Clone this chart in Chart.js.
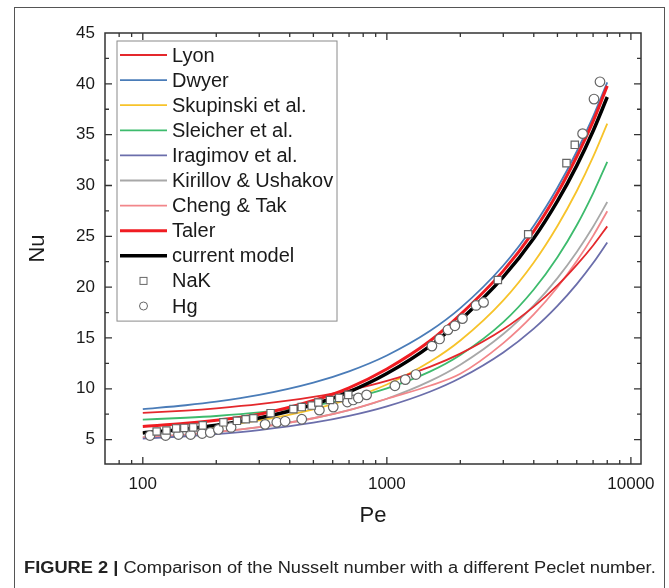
<!DOCTYPE html>
<html>
<head>
<meta charset="utf-8">
<script src="https://cdn.jsdelivr.net/npm/chart.js@4.4.1/dist/chart.umd.min.js"></script>
<style>
  body { margin: 0; background: #fff; }
  #page { position: relative; width: 669px; height: 588px; overflow: hidden; }
  #frame { position: absolute; left: 14px; top: 7px; width: 651px; height: 620px; border: 1.5px solid #555; box-sizing: border-box; }
  #grafico { position: absolute; left: 0; top: 0; }
  #legenda { position: absolute; left: 24px; top: 559px; font: 16px 'Liberation Sans', Arial, sans-serif; color: #222; white-space: nowrap; transform-origin: left top; }
  #legenda b { font-weight: bold; }
</style>
</head>
<body>
<div id="page">
  <div id="frame"></div>
  <canvas id="grafico" width="669" height="588"></canvas>
  <div id="legenda"><b>FIGURE 2 |</b> Comparison of the Nusselt number with a different Peclet number.</div>
</div>
<script>
// Pe values where the correlation curves were read
const peGrid = [100, 150, 200, 300, 500, 700, 1000, 1500, 2000, 3000, 4000, 5000, 6000, 7000, 8000];

const nuLyon      = [7.63, 7.86, 8.08, 8.48, 9.20, 9.85, 10.77, 12.16, 13.46, 15.85, 18.08, 20.17, 22.19, 24.10, 25.98];
const nuDwyer     = [8.00, 8.38, 8.73, 9.40, 10.61, 11.72, 13.28, 15.68, 17.93, 22.13, 26.04, 29.77, 33.34, 36.78, 40.15];
const nuSkupinski = [5.66, 5.99, 6.30, 6.89, 7.98, 8.99, 10.42, 12.65, 14.75, 18.70, 22.43, 26.02, 29.46, 32.81, 36.09];
const nuSleicher  = [6.97, 7.15, 7.32, 7.67, 8.36, 9.03, 10.04, 11.69, 13.33, 16.56, 19.77, 22.94, 26.09, 29.23, 32.33];
const nuIragimov  = [5.10, 5.33, 5.54, 5.94, 6.66, 7.33, 8.27, 9.71, 11.06, 13.58, 15.92, 18.16, 20.30, 22.37, 24.39];
const nuKirillov  = [5.22, 5.49, 5.75, 6.23, 7.10, 7.90, 9.02, 10.75, 12.37, 15.39, 18.21, 20.89, 23.46, 25.94, 28.37];
const nuChengTak  = [5.22, 5.49, 5.75, 6.23, 7.10, 7.90, 9.02, 10.30, 11.47, 14.49, 17.31, 19.99, 22.56, 25.04, 27.47];
const nuTaler     = [6.30, 6.60, 6.90, 7.50, 8.85, 10.10, 11.95, 14.70, 17.30, 21.60, 25.50, 29.25, 32.85, 36.30, 39.80];
const nuCurrent   = [5.66, 6.05, 6.41, 7.12, 8.45, 9.70, 11.50, 14.20, 16.75, 21.00, 24.80, 28.45, 31.95, 35.36, 38.70];

// experimental points
const nakPe = [114, 125, 137, 148, 161, 176, 214, 243, 264, 284, 334, 414, 448, 492, 524, 585, 638, 695, 2850, 3795, 5445, 5890];
const nakNu = [5.8, 5.9, 6.1, 6.15, 6.2, 6.4, 6.7, 6.85, 7.0, 7.1, 7.6, 8.0, 8.2, 8.35, 8.65, 8.9, 9.1, 9.4, 20.7, 25.2, 32.2, 34.0];
const hgPe = [107, 124, 140, 157, 175, 189, 204, 230, 317, 354, 383, 448, 529, 603, 689, 728, 764, 826, 1079, 1190, 1315, 1530, 1645, 1780, 1900, 2040, 2320, 2490, 6340, 7060, 7470];
const hgNu = [5.4, 5.4, 5.5, 5.5, 5.6, 5.7, 6.0, 6.2, 6.5, 6.7, 6.8, 7.0, 7.9, 8.2, 8.7, 8.9, 9.1, 9.4, 10.3, 10.9, 11.4, 14.2, 14.9, 15.8, 16.2, 16.9, 18.2, 18.5, 35.1, 38.5, 40.2];

const xTickLabels = [100, 1000, 10000];
const yTickLabels = [5, 10, 15, 20, 25, 30, 35, 40, 45];

function pares(xs, ys) {
  return xs.map((v, i) => ({ x: v, y: ys[i] }));
}

function curva(label, valores, cor, largura, ordem) {
  return {
    label: label,
    data: pares(peGrid, valores),
    borderColor: cor,
    backgroundColor: cor,
    borderWidth: largura,
    pointRadius: 0,
    cubicInterpolationMode: 'monotone',
    order: ordem
  };
}

const datasets = [
  curva('Lyon', nuLyon, '#e4282c', 1.8, 3),
  curva('Dwyer', nuDwyer, '#4a7cb8', 1.8, 3),
  curva('Skupinski et al.', nuSkupinski, '#f7c32a', 1.8, 3),
  curva('Sleicher et al.', nuSleicher, '#3dbb6d', 1.8, 3),
  curva('Iragimov et al.', nuIragimov, '#6b6eab', 1.8, 3),
  curva('Kirillov & Ushakov', nuKirillov, '#a8a8a8', 1.8, 4),
  curva('Cheng & Tak', nuChengTak, '#f2868a', 1.8, 3),
  curva('Taler', nuTaler, '#f01c22', 3, 1),
  curva('current model', nuCurrent, '#000000', 3.5, 2),
  {
    label: 'NaK', data: pares(nakPe, nakNu), showLine: false,
    pointStyle: 'rect', pointRadius: 5.2, borderColor: '#666', backgroundColor: '#fff', borderWidth: 1.2, order: 0
  },
  {
    label: 'Hg', data: pares(hgPe, hgNu), showLine: false,
    pointStyle: 'circle', pointRadius: 4.8, borderColor: '#666', backgroundColor: '#fff', borderWidth: 1.2, order: 0
  }
];

// moldura, ticks para dentro e legenda
const molduraPlugin = {
  id: 'moldura',
  afterDraw(chart) {
    const { ctx, chartArea: a, scales: { x, y } } = chart;
    ctx.save();
    ctx.strokeStyle = '#333';
    ctx.lineWidth = 1.5;
    ctx.strokeRect(a.left, a.top, a.right - a.left, a.bottom - a.top);

    ctx.lineWidth = 1.3;
    ctx.beginPath();
    x.ticks.forEach(t => {
      const v = t.value;
      const dec = Math.pow(10, Math.floor(Math.log10(v) + 1e-9));
      const m = v / dec;
      if (Math.abs(m - Math.round(m)) > 1e-6) return;
      const px = x.getPixelForValue(v);
      if (px <= a.left + 1 || px >= a.right - 1) return;
      const len = Math.round(m) === 1 ? 7 : 4;
      ctx.moveTo(px, a.bottom); ctx.lineTo(px, a.bottom - len);
      ctx.moveTo(px, a.top); ctx.lineTo(px, a.top + len);
    });
    y.ticks.forEach(t => {
      const py = y.getPixelForValue(t.value);
      if (py <= a.top + 1 || py >= a.bottom - 1) return;
      const len = yTickLabels.includes(t.value) ? 7 : 4;
      ctx.moveTo(a.left, py); ctx.lineTo(a.left + len, py);
      ctx.moveTo(a.right, py); ctx.lineTo(a.right - len, py);
    });
    ctx.stroke();

    // legenda dentro do grafico
    const lx = a.left + 12, ly = a.top + 8, lw = 220, passo = 25.1;
    const lh = passo * chart.data.datasets.length + 4;
    ctx.fillStyle = '#fff';
    ctx.fillRect(lx, ly, lw, lh);
    ctx.strokeStyle = '#8a8a8a';
    ctx.lineWidth = 1;
    ctx.strokeRect(lx, ly, lw, lh);
    ctx.font = "20px 'Liberation Sans', Arial, sans-serif";
    ctx.textBaseline = 'middle';
    chart.data.datasets.forEach((ds, i) => {
      const cy = ly + 14 + i * passo;
      if (ds.showLine === false) {
        ctx.strokeStyle = ds.borderColor;
        ctx.lineWidth = 1;
        ctx.fillStyle = '#fff';
        if (ds.pointStyle === 'rect') {
          ctx.fillRect(lx + 23, cy - 3.5, 7, 7);
          ctx.strokeRect(lx + 23, cy - 3.5, 7, 7);
        } else {
          ctx.beginPath();
          ctx.arc(lx + 26.5, cy, 4, 0, Math.PI * 2);
          ctx.fill();
          ctx.stroke();
        }
      } else {
        ctx.strokeStyle = ds.borderColor;
        ctx.lineWidth = ds.borderWidth;
        ctx.beginPath();
        ctx.moveTo(lx + 3, cy);
        ctx.lineTo(lx + 50, cy);
        ctx.stroke();
      }
      ctx.fillStyle = '#1a1a1a';
      ctx.fillText(ds.label, lx + 55, cy + 1);
    });
    ctx.restore();
  }
};

Chart.defaults.font.family = "'Liberation Sans', Arial, sans-serif";
Chart.defaults.color = '#1a1a1a';

new Chart(document.getElementById('grafico'), {
  type: 'line',
  data: { datasets: datasets },
  options: {
    responsive: false,
    animation: false,
    layout: { padding: { left: 0, right: 28, top: 33, bottom: 58 } },
    plugins: { legend: { display: false }, tooltip: { enabled: false } },
    scales: {
      x: {
        type: 'logarithmic',
        min: 70,
        max: 11000,
        grid: { display: false, drawTicks: false },
        border: { display: false },
        ticks: {
          autoSkip: false,
          maxRotation: 0,
          padding: 10,
          font: { size: 17 },
          callback: (v) => xTickLabels.includes(v) ? String(v) : ''
        },
        title: { display: true, text: 'Pe', font: { size: 22 }, padding: { top: 0, bottom: 1 } },
        afterFit: (s) => { s.height = 66; }
      },
      y: {
        type: 'linear',
        min: 2.6,
        max: 45,
        grid: { display: false, drawTicks: false },
        border: { display: false },
        ticks: {
          stepSize: 2.5,
          includeBounds: false,
          autoSkip: false,
          padding: 10,
          font: { size: 17 },
          callback: (v) => yTickLabels.includes(v) ? String(v) : ''
        },
        title: { display: true, text: 'Nu', font: { size: 22 }, padding: { top: 25, bottom: 0 } },
        afterFit: (s) => { s.width = 105; }
      }
    }
  },
  plugins: [molduraPlugin]
});

// ajusta a largura da legenda da figura
const leg = document.getElementById('legenda');
const escala = 632 / leg.scrollWidth;
leg.style.transform = 'scaleX(' + escala + ')';
</script>
</body>
</html>
